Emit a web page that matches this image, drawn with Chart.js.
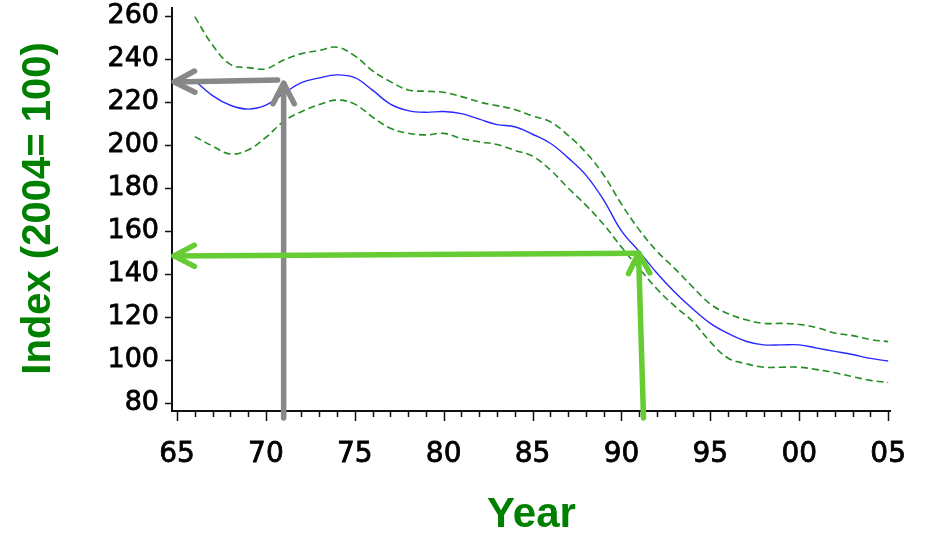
<!DOCTYPE html>
<html><head><meta charset="utf-8">
<script src="https://cdn.jsdelivr.net/npm/chart.js@4.4.1/dist/chart.umd.min.js"></script>
<style>html,body{margin:0;padding:0;background:#fff;}#wrap{width:927px;height:536px;}</style>
</head><body><div id="wrap"><canvas id="c" width="927" height="536"></canvas></div>
<script>
const years = [66,67,68,69,70,71,72,73,74,75,76,77,78,79,80,81,82,83,84,85,86,87,88,89,90,91,92,93,94,95,96,97,98,99,100,101,102,103,104,105];
const indexValues = [230,223,218.5,216.7,218.5,224,229,231.2,232.6,231.3,225.5,219,216,215.2,215.6,214.6,212,209.5,208.5,205,200.8,194,186,174.4,160,150.4,140.3,131.5,123.8,117,112.3,108.7,107,107,107,105.5,104,102.5,100.7,99.5];
const upperBand = [259.7,246.5,237.5,236,235.5,239.5,242.5,244,245.5,241.5,234.5,229.5,225.6,225,224.5,222.5,220,218.3,216.5,213.5,210.8,204.5,196.5,186,172.5,160.5,150.5,142.5,134,126,121.5,118.7,117,117,116.5,115,112.5,111.3,109.5,108.5];
const lowerBand = [203.9,199.5,195.8,197.7,203.5,211,215.5,218.8,220.9,219,213,207.8,205.5,204.7,205.4,203,201.5,200.2,197.5,194.8,188.4,180,172,163,152.5,142.5,133,125,118,108.4,100.8,98.3,96.6,96.6,96.6,95.5,94,92.2,90.5,89.5];
const yTickValues = [80,100,120,140,160,180,200,220,240,260];
const xTickYears = [65,70,75,80,85,90,95,100,105];
const xTickLabels = ['65','70','75','80','85','90','95','00','05'];
const xTitle = 'Year';
const yTitle = 'Index (2004= 100)';
// annotation arrows in data coordinates [year, index]
const grayArrowFrom = [[71,73],[70.66,230.2]];
const grayArrowTo = [[71,228.7],[64.85,229.3]];
const greenArrowFrom = [[91.24,73],[90.96,149.6]];
const greenArrowTo = [[90.96,149.8],[64.83,148.4]];

const toXY = arr => years.map((yr,i)=>({x:yr,y:arr[i]}));

function arrow(ctx, x1, y1, x2, y2, color, w){
  ctx.strokeStyle = color; ctx.lineWidth = w; ctx.lineCap = 'round'; ctx.lineJoin='round';
  ctx.beginPath(); ctx.moveTo(x1,y1); ctx.lineTo(x2,y2); ctx.stroke();
  const ang = Math.atan2(y2-y1, x2-x1), L = 23, sp = 0.48;
  ctx.beginPath();
  ctx.moveTo(x2 - L*Math.cos(ang-sp), y2 - L*Math.sin(ang-sp));
  ctx.lineTo(x2,y2);
  ctx.lineTo(x2 - L*Math.cos(ang+sp), y2 - L*Math.sin(ang+sp));
  ctx.stroke();
}

const decor = {
  id:'decor',
  afterDatasetsDraw(chart){
    const {ctx, chartArea:a, scales:{x,y}} = chart;
    ctx.save();
    ctx.strokeStyle = '#111'; ctx.lineWidth = 2; ctx.lineCap='butt';
    ctx.beginPath(); ctx.moveTo(a.left, a.top); ctx.lineTo(a.left, a.bottom+1); ctx.lineTo(a.right, a.bottom+1); ctx.stroke();
    ctx.lineWidth = 1.5; ctx.beginPath();
    yTickValues.forEach(v=>{const py=Math.round(y.getPixelForValue(v))+0.5; ctx.moveTo(a.left-7,py); ctx.lineTo(a.left,py);});
    for(let yr=65; yr<=105; yr++){
      const px = Math.round(x.getPixelForValue(yr))+0.5;
      const len = xTickYears.includes(yr) ? 10 : 6;
      ctx.moveTo(px,a.bottom+1); ctx.lineTo(px,a.bottom+1+len);
    }
    ctx.stroke();
    const P = p => [x.getPixelForValue(p[0]), y.getPixelForValue(p[1])];
    grayArrowFrom.forEach((f,i)=>{const A=P(f),B=P(grayArrowTo[i]); arrow(ctx,A[0],A[1],B[0],B[1],'#888888',5.5);});
    greenArrowFrom.forEach((f,i)=>{const A=P(f),B=P(greenArrowTo[i]); arrow(ctx,A[0],A[1],B[0],B[1],'#66cc33',5.5);});
    ctx.restore();
  }
};

new Chart(document.getElementById('c'), {
  type:'line',
  data:{datasets:[
    {data:toXY(indexValues), borderColor:'#2828ff', borderWidth:1.4, pointRadius:0, tension:0.4, fill:false},
    {data:toXY(upperBand), borderColor:'#238c23', borderWidth:1.6, borderDash:[7,4], pointRadius:0, tension:0.4, fill:false},
    {data:toXY(lowerBand), borderColor:'#238c23', borderWidth:1.6, borderDash:[7,4], pointRadius:0, tension:0.4, fill:false}
  ]},
  options:{
    responsive:false, animation:false, events:[],
    layout:{padding:{left:0,right:36,top:7,bottom:0}},
    plugins:{legend:{display:false}, tooltip:{enabled:false}},
    scales:{
      x:{type:'linear', min:64.72, max:105.16,
        afterBuildTicks:s=>{s.ticks = xTickYears.map(v=>({value:v}));},
        ticks:{callback:v=>xTickLabels[xTickYears.indexOf(v)], font:{family:'DejaVu Sans', size:28}, color:'#000', textStrokeColor:'#000', textStrokeWidth:0.8, padding:28, maxRotation:0, autoSkip:false},
        grid:{display:false, drawTicks:false}, border:{display:false},
        title:{display:true, text:xTitle, color:'#008000', font:{family:'Liberation Sans', size:42, weight:'bold', lineHeight:1}, padding:{top:0,bottom:0}},
        afterFit:s=>{s.height=126; s.paddingLeft=0; s.paddingRight=0;}
      },
      y:{type:'linear', min:76.7, max:264.2,
        afterBuildTicks:s=>{s.ticks = yTickValues.map(v=>({value:v}));},
        ticks:{font:{family:'DejaVu Sans', size:27}, color:'#000', textStrokeColor:'#000', textStrokeWidth:0.8, padding:13, autoSkip:false},
        grid:{display:false, drawTicks:false}, border:{display:false},
        title:{display:true, text:yTitle, color:'#008000', font:{family:'Liberation Sans', size:40, weight:'bold'}, padding:{top:15,bottom:0}},
        afterFit:s=>{s.width=172; s.paddingTop=0; s.paddingBottom=0;}
      }
    }
  },
  plugins:[decor]
});
</script></body></html>
